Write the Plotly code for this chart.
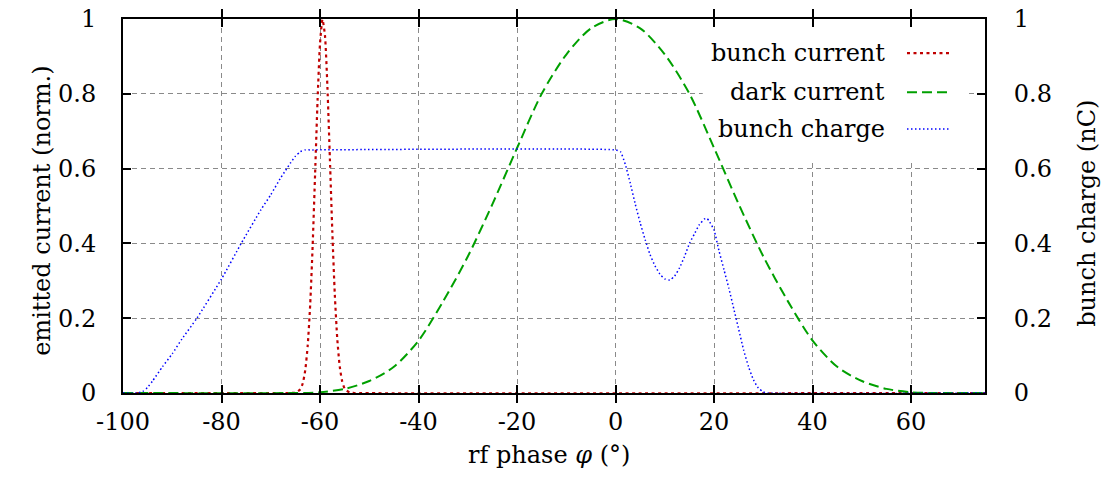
import plotly.graph_objects as go

# ---- data ----
phase_bunch = [-100, -66, -65, -64, -63.5, -63, -62.5, -62, -61.5, -61, -60.5, -60, -59.5,
               -59, -58.5, -58, -57.5, -57, -56.5, -56, -55.5, -55, -54, -53, 75]
bunch_current = [0, 0, 0.001, 0.010, 0.026, 0.061, 0.127, 0.236, 0.393, 0.586, 0.783, 0.935, 0.999,
                 0.956, 0.818, 0.627, 0.430, 0.263, 0.145, 0.071, 0.031, 0.012, 0.001, 0, 0]

phase_dark = [-100, -65, -60, -55, -50, -45, -40, -35, -30, -25, -20, -15, -10, -5, 0,
              5, 10, 15, 20, 25, 30, 35, 40, 45, 50, 55, 60, 65, 75]
dark_current = [0, 0, 0.002, 0.011, 0.032, 0.07, 0.14, 0.245, 0.365, 0.505, 0.655, 0.80, 0.905, 0.975, 1.0,
                0.975, 0.905, 0.80, 0.655, 0.505, 0.365, 0.245, 0.14, 0.07, 0.032, 0.011, 0.002, 0, 0]

phase_charge = [-100, -97, -96, -95, -94, -92, -90, -88, -85, -80, -76, -72, -70, -68, -67, -66,
                -65, -64, -63, -62, 0, 1, 2, 3, 4, 5, 6, 7, 8, 9, 10, 11, 12, 13, 14, 15, 16,
                17, 18, 18.5, 19, 20, 21, 22, 23, 24, 25, 26, 27, 28, 29, 30, 31, 75]
bunch_charge = [0, 0, 0.004, 0.015, 0.032, 0.07, 0.105, 0.145, 0.2, 0.305, 0.40, 0.49, 0.53, 0.575, 0.595, 0.615,
                0.633, 0.645, 0.65, 0.65, 0.65, 0.645, 0.61, 0.56, 0.505, 0.455, 0.41, 0.37, 0.34, 0.318, 0.305, 0.302,
                0.313, 0.335, 0.365, 0.40, 0.425, 0.45, 0.465, 0.467, 0.46, 0.435, 0.38, 0.33, 0.28, 0.225, 0.17,
                0.115, 0.07, 0.035, 0.013, 0.003, 0, 0]

x_ticks = [-100, -80, -60, -40, -20, 0, 20, 40, 60]
x_ticktext = ["-100", "-80", "-60", "-40", "-20", "0", "20", "40", "60"]
y_ticks = [0, 0.2, 0.4, 0.6, 0.8, 1]
y_ticktext = ["0", "0.2", "0.4", "0.6", "0.8", "1"]

legend_names = ["bunch current", "dark current", "bunch charge"]
colors = ["#c00000", "#00a000", "#0000ff"]
dashes = ["3px,3.5px", "10px,5px", "1.5px,2.5px"]
widths = [2.2, 2, 1.5]

FONT = "DejaVu Serif"

fig = go.Figure()
fig.add_trace(go.Scatter(x=phase_bunch, y=bunch_current, mode="lines", name=legend_names[0],
                         line=dict(color=colors[0], width=widths[0], dash=dashes[0], shape="spline", smoothing=0.6)))
fig.add_trace(go.Scatter(x=phase_dark, y=dark_current, mode="lines", name=legend_names[1],
                         line=dict(color=colors[1], width=widths[1], dash=dashes[1], shape="spline", smoothing=0.8)))
fig.add_trace(go.Scatter(x=phase_charge, y=bunch_charge, mode="lines", name=legend_names[2], yaxis="y2",
                         line=dict(color=colors[2], width=widths[2], dash=dashes[2], shape="spline", smoothing=0.5)))

# white key box hides grid lines but not curves
fig.add_shape(type="rect", xref="x", yref="y", x0=17.7, x1=71.3, y0=0.623, y1=1.0,
              fillcolor="white", line=dict(width=0), layer="between")

# key (gnuplot style: text right-aligned, sample on the right)
key_y = [0.909, 0.804, 0.706]
for name, c, d, w, ky in zip(legend_names, colors, dashes, widths, key_y):
    fig.add_annotation(xref="paper", yref="paper", x=0.886, y=ky, text=name, showarrow=False,
                       xanchor="right", yanchor="middle", font=dict(family=FONT, size=24, color="black"))
    fig.add_shape(type="line", xref="paper", yref="paper", x0=0.9095, x1=0.9594, y0=ky, y1=ky,
                  line=dict(color=c, width=w, dash=d))

# axis titles
fig.add_annotation(xref="paper", yref="paper", x=-0.094, y=0.487, text="emitted current (norm.)",
                   textangle=-90, showarrow=False, xanchor="center", yanchor="middle",
                   font=dict(family=FONT, size=24, color="black"))
fig.add_annotation(xref="paper", yref="paper", x=1.118, y=0.481, text="bunch charge (nC)",
                   textangle=-90, showarrow=False, xanchor="center", yanchor="middle",
                   font=dict(family=FONT, size=24, color="black"))
fig.add_annotation(xref="paper", yref="paper", x=0.494, y=-0.165, text="rf phase <i>φ</i> (°)",
                   showarrow=False, xanchor="center", yanchor="middle",
                   font=dict(family=FONT, size=24, color="black"))

grid_style = dict(showgrid=True, gridcolor="#8a8a8a", gridwidth=1, griddash="5px,4px")

fig.update_layout(
    width=1108, height=486,
    margin=dict(l=123, r=123, t=19, b=93, autoexpand=False),
    paper_bgcolor="white", plot_bgcolor="white",
    showlegend=False,
    font=dict(family=FONT, size=24, color="black"),
    xaxis=dict(range=[-100, 75], tickvals=x_ticks, ticktext=x_ticktext, automargin=False,
               ticks="inside", ticklen=8, tickwidth=1.5, tickcolor="black",
               showline=True, linecolor="black", linewidth=2, mirror="allticks",
               zeroline=False, ticklabelstandoff=6, **grid_style),
    yaxis=dict(range=[0, 1], tickvals=y_ticks, ticktext=y_ticktext, automargin=False,
               ticks="inside", ticklen=8, tickwidth=1.5, tickcolor="black",
               showline=True, linecolor="black", linewidth=2, mirror=True,
               zeroline=False, ticklabelstandoff=20, **grid_style),
    yaxis2=dict(range=[0, 1], tickvals=y_ticks, ticktext=y_ticktext, overlaying="y", side="right",
                automargin=False,
                ticks="inside", ticklen=8, tickwidth=1.5, tickcolor="black",
                showline=True, linecolor="black", linewidth=2,
                zeroline=False, showgrid=False, ticklabelstandoff=22),
)

fig.write_html("out.html")
